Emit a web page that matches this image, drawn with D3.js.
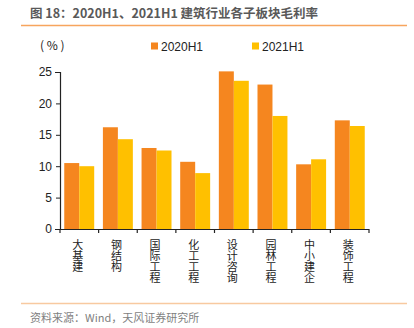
<!DOCTYPE html>
<html>
<head>
<meta charset="utf-8">
<script src="https://cdn.jsdelivr.net/npm/d3@7"></script>
<style>
  body { margin: 0; background: #fff; }
  svg { display: block; font-family: "Noto Sans CJK SC", "Noto Sans", sans-serif; }
</style>
</head>
<body>
<div class="canvas"></div>
<script>
const categories = ['大基建', '钢结构', '国际工程', '化工工程', '设计咨询', '园林工程', '中小建企', '装饰工程'];
const seriesNames = ['2020H1', '2021H1'];
const values2020 = [10.5, 16.2, 12.9, 10.7, 25.1, 23.0, 10.3, 17.3];
const values2021 = [10.0, 14.3, 12.5, 8.9, 23.6, 18.0, 11.1, 16.4];
const yTicks = [0, 5, 10, 15, 20, 25];

const colors = ['#F5861F', '#FFC000'];
const dims = { width: 414, height: 328 };
const plot = { left: 60, right: 369, top: 72, bottom: 229 };

const svg = d3
  .select('.canvas')
  .append('svg')
  .attr('width', dims.width)
  .attr('height', dims.height);

// title + rules
svg
  .append('text')
  .attr('x', 30)
  .attr('y', 18)
  .attr('fill', '#595959')
  .attr('font-size', 12.5)
  .attr('font-weight', 'bold')
  .text('图 18：2020H1、2021H1 建筑行业各子板块毛利率');

svg
  .append('line')
  .attr('x1', 21)
  .attr('x2', 407)
  .attr('y1', 25.5)
  .attr('y2', 25.5)
  .attr('stroke', '#F7A55E')
  .attr('stroke-width', 1.3);

svg
  .append('line')
  .attr('x1', 21)
  .attr('x2', 407)
  .attr('y1', 303.5)
  .attr('y2', 303.5)
  .attr('stroke', '#F8C9A0')
  .attr('stroke-width', 1.3);

svg
  .append('text')
  .attr('x', 30)
  .attr('y', 322)
  .attr('fill', '#7f7f7f')
  .attr('font-size', 11)
  .text('资料来源：Wind，天风证券研究所');

// unit label
svg
  .append('text')
  .attr('x', 40)
  .attr('y', 50)
  .attr('fill', '#222')
  .attr('font-size', 12)
  .attr('xml:space', 'preserve')
  .text('( % )');

// legend
const legendX = [151, 252];
seriesNames.forEach((name, i) => {
  const g = svg.append('g').attr('transform', `translate(${legendX[i]}, 46)`);
  g.append('rect')
    .attr('x', 0)
    .attr('y', -3.5)
    .attr('width', 7)
    .attr('height', 7)
    .attr('fill', colors[i]);
  g.append('text')
    .attr('x', 10)
    .attr('y', 4.5)
    .attr('fill', '#222')
    .attr('font-size', 12)
    .attr('font-family', 'Liberation Sans, sans-serif')
    .text(name);
});

// scales
const x0 = d3
  .scaleBand()
  .domain(categories)
  .range([plot.left, plot.right])
  .paddingInner(0.225)
  .paddingOuter(0.11);

const x1 = d3
  .scaleBand()
  .domain(seriesNames)
  .range([0, x0.bandwidth()]);

const y = d3.scaleLinear().domain([0, 25]).range([plot.bottom, plot.top]);

// y axis
const yAxis = svg
  .append('g')
  .attr('transform', `translate(${plot.left}, 0)`)
  .call(d3.axisLeft(y).tickValues(yTicks).tickSize(5).tickPadding(3));

yAxis.select('.domain').attr('stroke', '#222').attr('stroke-width', 1.2);
yAxis.selectAll('.tick line').attr('stroke', '#222').attr('x2', 0).attr('x1', -4);
yAxis
  .selectAll('.tick text')
  .attr('fill', '#222')
  .attr('font-size', 12)
  .attr('font-family', 'Liberation Sans, sans-serif');

// bars
const rows = categories.map((c, i) => ({ name: c, vals: [values2020[i], values2021[i]] }));

const groups = svg
  .append('g')
  .selectAll('g')
  .data(rows)
  .enter()
  .append('g')
  .attr('transform', (d) => `translate(${x0(d.name)}, 0)`);

groups
  .selectAll('rect')
  .data((d) => d.vals.map((v, i) => ({ key: seriesNames[i], v, i })))
  .enter()
  .append('rect')
  .attr('x', (d) => x1(d.key))
  .attr('y', (d) => y(d.v))
  .attr('width', x1.bandwidth())
  .attr('height', (d) => y(0) - y(d.v))
  .attr('fill', (d) => colors[d.i]);

// x axis with ticks between categories
const step = (plot.right - plot.left) / categories.length;
const xAxis = svg.append('g');
xAxis
  .append('line')
  .attr('x1', plot.left)
  .attr('x2', plot.right)
  .attr('y1', plot.bottom + 0.5)
  .attr('y2', plot.bottom + 0.5)
  .attr('stroke', '#222')
  .attr('stroke-width', 1.2);

xAxis
  .selectAll('.sep')
  .data(d3.range(categories.length + 1))
  .enter()
  .append('line')
  .attr('x1', (d) => plot.left + d * step)
  .attr('x2', (d) => plot.left + d * step)
  .attr('y1', plot.bottom)
  .attr('y2', plot.bottom + 4)
  .attr('stroke', '#222')
  .attr('stroke-width', 1.2);

// vertical category labels (top-to-bottom writing mode)
xAxis
  .selectAll('.lbl')
  .data(categories)
  .enter()
  .append('text')
  .attr('fill', '#222')
  .attr('font-size', 11)
  .style('writing-mode', 'vertical-rl')
  .style('text-orientation', 'upright')
  .attr('x', (d) => x0(d) + x0.bandwidth() / 2 - 1.5)
  .attr('y', 239.5)
  .text((d) => d);
</script>
</body>
</html>
